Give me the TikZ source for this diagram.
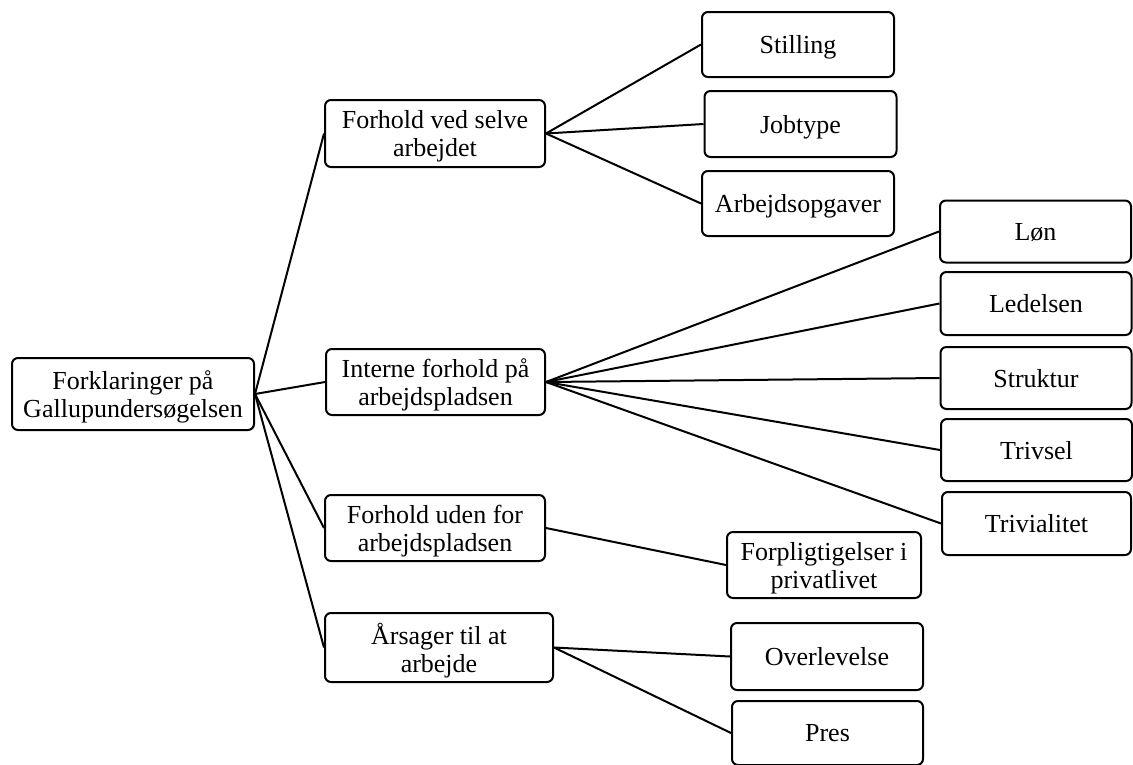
\documentclass[tikz,border=0pt]{standalone}
\usepackage{fontspec}
\setmainfont{Liberation Serif}
\begin{document}
\begin{tikzpicture}[x=1pt,y=-1pt,
  box/.style={draw, line width=2pt, rounded corners=6pt, align=center, inner sep=0pt,
    text depth=0pt, font=\fontsize{26}{28}\selectfont},
  mid/.style={box, minimum width=220pt, minimum height=66pt},
  leaf/.style={box, minimum width=192pt, minimum height=65pt},
  rleaf/.style={box, minimum width=191pt, minimum height=62pt},
  link/.style={line width=2pt}]
\useasboundingbox (0,0) rectangle (1133,764);
\node[box, minimum width=242pt, minimum height=72pt] (root) at (133,394) {Forklaringer på\\Gallupundersøgelsen};
\node[mid, minimum height=67pt] (fv) at (435,133.5) {Forhold ved selve\\arbejdet};
\node[mid, minimum width=219pt] (in) at (435.5,382) {Interne forhold på\\arbejdspladsen};
\node[mid] (fu) at (435,528) {Forhold uden for\\arbejdspladsen};
\node[mid, minimum width=228pt, minimum height=69pt] (aa) at (439,647.5) {Årsager til at\\arbejde};
\node[leaf] (st) at (798,44.5) {Stilling};
\node[leaf, minimum height=66pt] (jt) at (800.5,124) {Jobtype};
\node[leaf] (ao) at (798,203.5) {Arbejdsopgaver};
\node[rleaf] (lon) at (1035.5,231.5) {Løn};
\node[rleaf, minimum height=63pt] (led) at (1036,303.5) {Ledelsen};
\node[rleaf] (str) at (1036,378) {Struktur};
\node[rleaf] (tri) at (1036.5,450) {Trivsel};
\node[rleaf, minimum width=189pt, minimum height=63pt] (triv) at (1036.5,523.5) {Trivialitet};
\node[leaf, minimum width=194pt, minimum height=66pt] (fp) at (824,565) {Forpligtigelser i\\privatlivet};
\node[leaf, minimum height=67pt] (ov) at (827,656.5) {Overlevelse};
\node[leaf, minimum width=191pt, minimum height=64pt] (pr) at (827.5,733) {Pres};
\foreach \t in {fv,in,fu,aa} \draw[link] (root.east) -- (\t.west);
\foreach \t in {st,jt,ao} \draw[link] (fv.east) -- (\t.west);
\foreach \t in {lon,led,str,tri,triv} \draw[link] (in.east) -- (\t.west);
\draw[link] (fu.east) -- (fp.west);
\foreach \t in {ov,pr} \draw[link] (aa.east) -- (\t.west);
\end{tikzpicture}
\end{document}
